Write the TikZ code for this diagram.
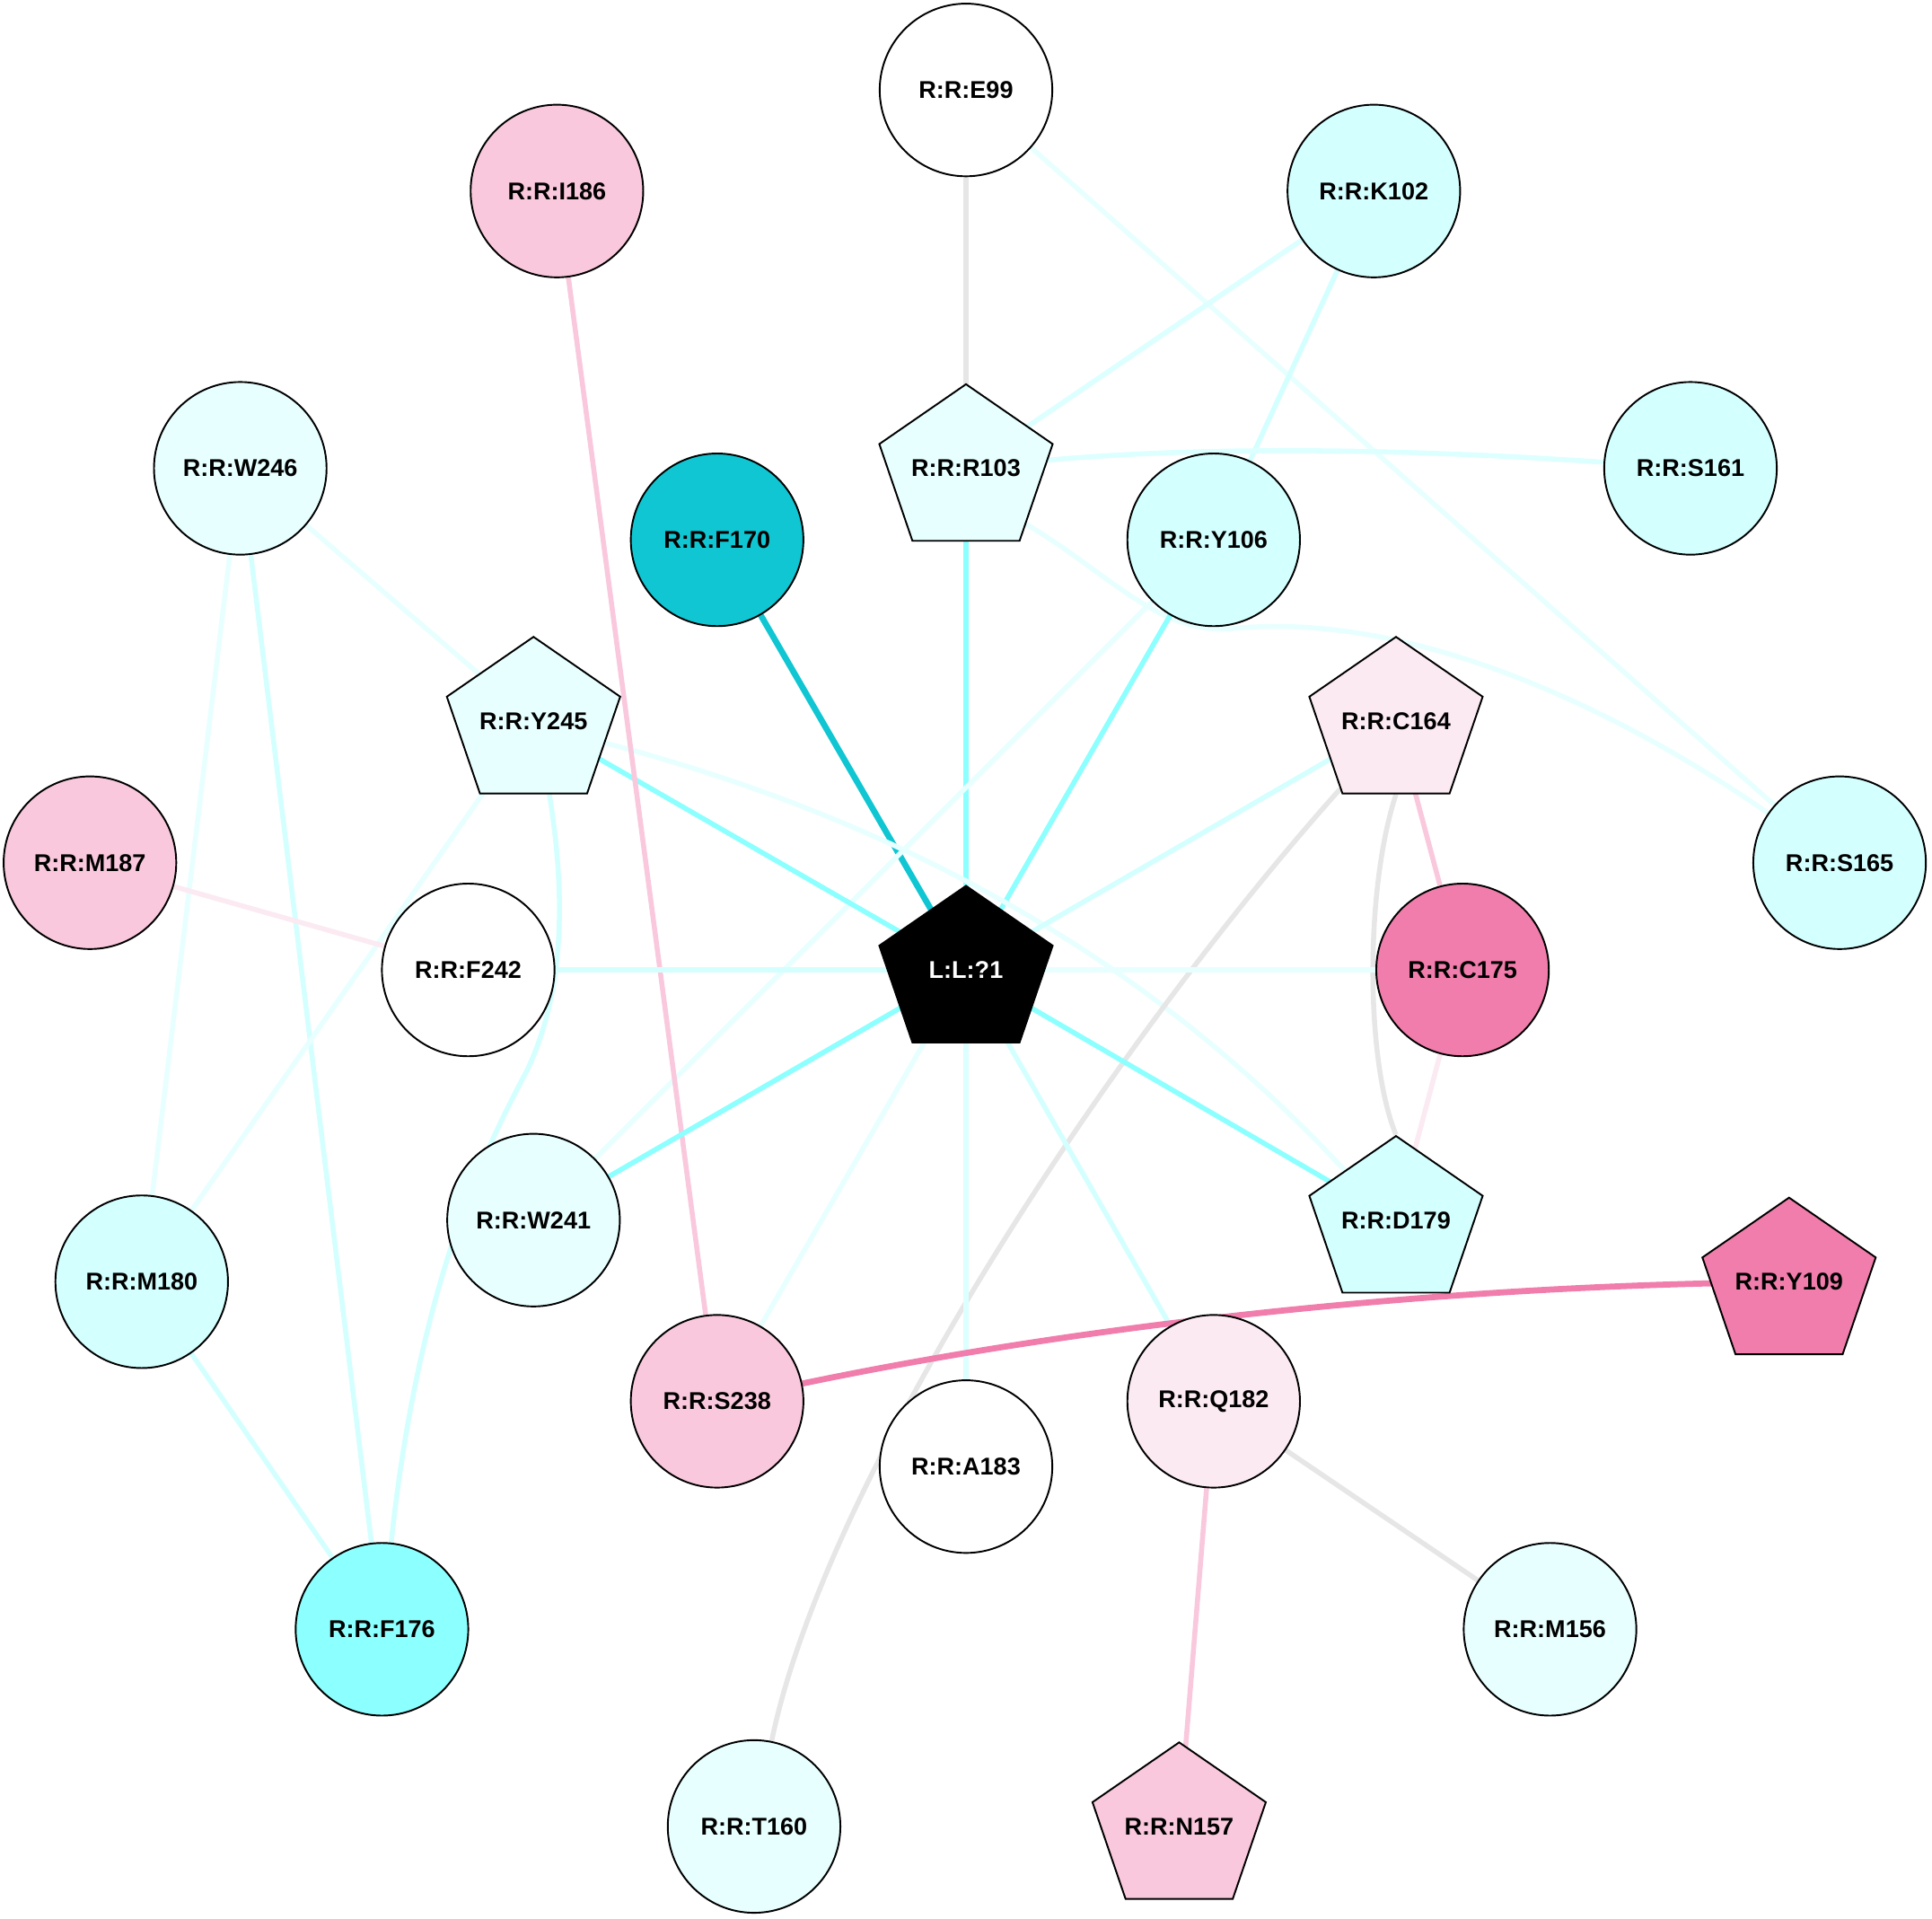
\documentclass[tikz,border=0pt]{standalone}
\usepackage{fontspec}
\setmainfont{Liberation Sans}
\usetikzlibrary{shapes.geometric,backgrounds}
\definecolor{cdark}{HTML}{10C6D2}
\definecolor{cmid}{HTML}{8CFFFF}
\definecolor{clight}{HTML}{D4FFFF}
\definecolor{cpale}{HTML}{E8FFFF}
\definecolor{ppale}{HTML}{FBEAF2}
\definecolor{pmid}{HTML}{F9C8DC}
\definecolor{pdark}{HTML}{F07DAB}
\definecolor{egray}{HTML}{E6E6E6}
\tikzset{
  res/.style={circle,draw=black,line width=0.4pt,minimum size=1.4cm,inner sep=0pt,
    font=\fontsize{5.6pt}{6pt}\selectfont\bfseries},
  pent/.style={regular polygon,regular polygon sides=5,draw=black,line width=0.4pt,
    minimum size=1.404cm,inner sep=0pt,xscale=1.053},
  plab/.style={font=\fontsize{5.6pt}{6pt}\selectfont\bfseries,inner sep=1pt},
  link/.style={line width=1.15pt},
  thick link/.style={line width=1.4pt}
}
\begin{document}
\begin{tikzpicture}[x=0.01cm,y=-0.01cm]
\useasboundingbox (0,0) rectangle (1568,1557);
% circles
\node[res,fill=white] (E99) at (784,73) {R:R:E99};
\node[res,fill=pmid] (I186) at (452,155) {R:R:I186};
\node[res,fill=clight] (K102) at (1115,155) {R:R:K102};
\node[res,fill=cpale] (W246) at (195,380) {R:R:W246};
\node[res,fill=clight] (S161) at (1372,380) {R:R:S161};
\node[res,fill=cdark] (F170) at (582,438) {R:R:F170};
\node[res,fill=clight] (Y106) at (985,438) {R:R:Y106};
\node[res,fill=clight] (S165) at (1493,700) {R:R:S165};
\node[res,fill=pmid] (M187) at (73,700) {R:R:M187};
\node[res,fill=white] (F242) at (380,787) {R:R:F242};
\node[res,fill=pdark] (C175) at (1187,787) {R:R:C175};
\node[res,fill=cpale] (W241) at (433,990) {R:R:W241};
\node[res,fill=clight] (M180) at (115,1040) {R:R:M180};
\node[res,fill=pmid] (S238) at (582,1137) {R:R:S238};
\node[res,fill=ppale] (Q182) at (985,1137) {R:R:Q182};
\node[res,fill=white] (A183) at (784,1190) {R:R:A183};
\node[res,fill=cmid] (F176) at (310,1322) {R:R:F176};
\node[res,fill=cpale] (M156) at (1258,1322) {R:R:M156};
\node[res,fill=cpale] (T160) at (612,1482) {R:R:T160};
% pentagons (shape at its circumcentre, text at the box centre)
\node[pent,fill=cpale] (R103) at (784,382) {};
\node[plab] (R103t) at (784,380) {R:R:R103};
\node[pent,fill=cpale] (Y245) at (433,587) {};
\node[plab] (Y245t) at (433,585) {R:R:Y245};
\node[pent,fill=ppale] (C164) at (1133,587) {};
\node[plab] (C164t) at (1133,585) {R:R:C164};
\node[pent,fill=black] (L) at (784,789) {};
\node[plab,text=white] (Lt) at (784,787) {L:L:?1};
\node[pent,fill=clight] (D179) at (1133,992) {};
\node[plab] (D179t) at (1133,990) {R:R:D179};
\node[pent,fill=pdark] (Y109) at (1452,1042) {};
\node[plab] (Y109t) at (1452,1040) {R:R:Y109};
\node[pent,fill=pmid] (N157) at (957,1484) {};
\node[plab] (N157t) at (957,1482) {R:R:N157};
\begin{scope}[on background layer]
\draw[link,egray] (E99) -- (R103t);
\draw[link,cpale] (E99) -- (S165);
\draw[link,clight!60!cpale] (K102) -- (R103t);
\draw[link,clight] (K102) -- (Y106);
\draw[link,clight!60!cpale] (R103t) .. controls (1000,358) and (1200,368) .. (S161);
\draw[link,cmid] (R103t) -- (Lt);
\draw[link,cpale] (R103.-43) .. controls (900,465) and (940,515) .. (1000,510)
   .. controls (1150,495) and (1320,580) .. (S165);
\draw[thick link,cdark] (F170) -- (Lt);
\draw[link,cmid] (Y106) -- (Lt);
\draw[link,cpale] (Y106) -- (W241);
\draw[link,cpale] (W246) -- (Y245t);
\draw[link,cpale] (W246) -- (M180);
\draw[link,clight] (W246) -- (F176);
\draw[link,cmid] (Y245t) -- (Lt);
\draw[link,cpale] (Y245.-16) .. controls (736,667) and (935,781) .. (D179.133);
\draw[link,cpale] (Y245t) -- (M180);
\draw[link,clight] (Y245.282) .. controls (458,720) and (460,800) .. (428,868)
   .. controls (395,930) and (340,1040) .. (F176);
\draw[link,pmid] (I186) -- (S238);
\draw[link,ppale] (M187) -- (F242);
\draw[link,clight] (F242) -- (Lt);
\draw[link,clight] (C164t) -- (Lt);
\draw[link,pmid] (C164t) -- (C175);
\draw[link,egray] (C164.south) .. controls (1108,720) and (1108,860) .. (D179.north);
\draw[link,egray] (C164.231) .. controls (900,850) and (670,1200) .. (T160);
\draw[link,cpale] (C175) -- (Lt);
\draw[link,ppale] (C175) -- (D179t);
\draw[link,cmid] (Lt) -- (D179t);
\draw[link,cmid] (Lt) -- (W241);
\draw[link,cpale] (Lt) -- (S238);
\draw[link,clight!60!cpale] (Lt) -- (A183);
\draw[link,clight] (Lt) -- (Q182);
\draw[link,clight] (M180) -- (F176);
\draw[thick link,pdark] (Y109t) .. controls (1150,1046) and (880,1075) .. (S238);
\draw[link,egray] (Q182) -- (M156);
\draw[link,pmid] (Q182) -- (N157t);
\end{scope}
\end{tikzpicture}
\end{document}
